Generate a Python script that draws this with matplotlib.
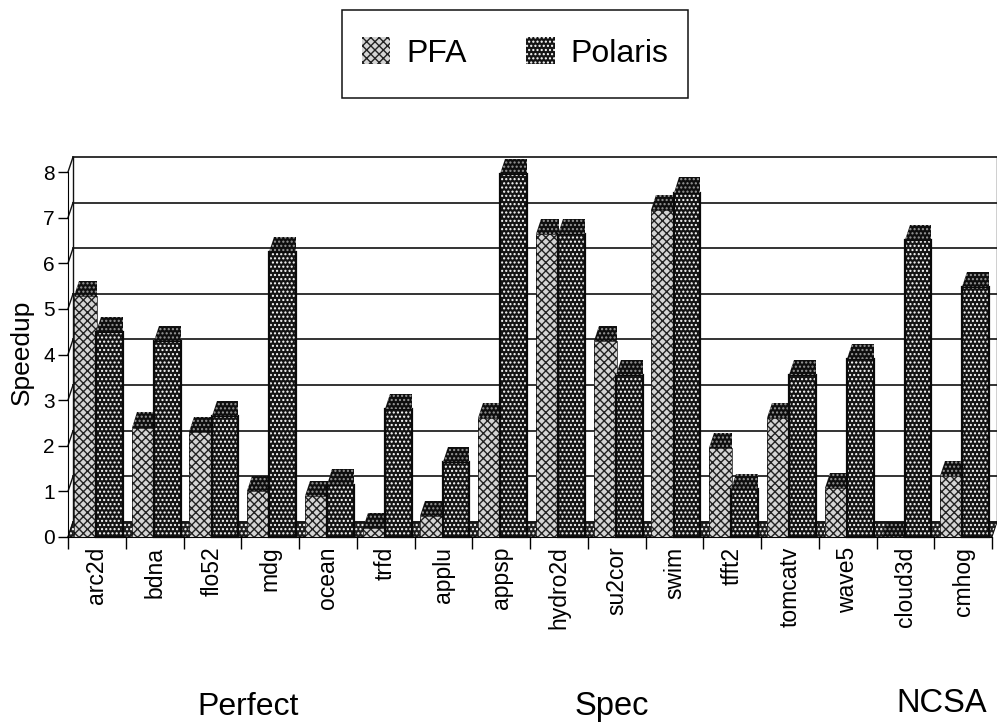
import matplotlib
matplotlib.use("Agg")
import matplotlib.pyplot as plt
from matplotlib.patches import Polygon, Patch, Rectangle
import numpy as np

plt.rcParams["font.family"] = ["Liberation Sans", "DejaVu Sans"]
plt.rcParams["hatch.linewidth"] = 1.0

benchmarks = ["arc2d", "bdna", "flo52", "mdg", "ocean", "trfd", "applu", "appsp",
              "hydro2d", "su2cor", "swim", "tfft2", "tomcatv", "wave5", "cloud3d", "cmhog"]
pfa = [5.28, 2.4, 2.3, 1.0, 0.9, 0.2, 0.45, 2.6, 6.65, 4.3, 7.17, 1.95, 2.6, 1.07, 0.0, 1.33]
polaris = [4.5, 4.3, 2.65, 6.25, 1.15, 2.8, 1.65, 7.95, 6.65, 3.55, 7.55, 1.05, 3.55, 3.9, 6.5, 5.48]
yticks = [0, 1, 2, 3, 4, 5, 6, 7, 8]

# depth of the fake 3d box, in data units
DX = 0.087
DY = 0.33

W, H = 997, 727
fig = plt.figure(figsize=(W / 100, H / 100), dpi=100)
ax = fig.add_axes([68 / W, (H - 537) / H, 924 / W, 365 / H])
ax.set_xlim(0, len(benchmarks))
ax.set_ylim(0, 8)


def face(points, color, hatch_color, hatch, z, lw=0.7):
    ax.add_patch(Polygon(points, facecolor=color, edgecolor=hatch_color, hatch=hatch,
                         linewidth=0, zorder=z, clip_on=False))
    if lw:
        ax.add_patch(Polygon(points, fill=False, edgecolor="#0a0a0a", linewidth=lw, zorder=z, clip_on=False))


def bar3d(x0, x1, value, front, top, z, lw):
    face([(x0, 0), (x1, 0), (x1, value), (x0, value)], *front, z=z, lw=lw)
    face([(x0, value), (x1, value), (x1, value + DY), (x0 + DX, value + DY)], *top, z=z, lw=0)


# back wall, left wall
n = len(benchmarks)
for y in yticks:
    ax.plot([DX, n + DX], [y + DY, y + DY], color="#111111", lw=1.2, zorder=1, clip_on=False)
    ax.plot([0, DX], [y, y + DY], color="#111111", lw=1.0, zorder=1, clip_on=False)
ax.plot([DX, DX], [DY, 8 + DY], color="#111111", lw=1.0, zorder=1, clip_on=False)
ax.plot([n + DX, n + DX], [DY, 8 + DY], color="#111111", lw=1.0, zorder=1, clip_on=False)

pfa_front = ("#d4d4d4", "#222222", "xxxx")
pol_front = ("#141414", "#ffffff", "....")
dark_top = ("#0e0e0e", "#999999", "....")

# floor
face([(0, 0), (n, 0), (n + DX, DY), (DX, DY)], "#1e1e1e", "#ffffff", "....", z=2)

for i in range(n):
    bar3d(i + 0.10, i + 0.50, pfa[i], pfa_front, dark_top, z=3 + i * 0.01, lw=0.5)
    bar3d(i + 0.485, i + 0.95, polaris[i], pol_front, dark_top, z=3 + i * 0.01 + 0.005, lw=1.6)

ax.spines["top"].set_visible(False)
ax.spines["right"].set_visible(False)
ax.set_yticks(yticks)
ax.tick_params(axis="y", length=7.5, width=1.0, labelsize=15, pad=2)
ax.set_xticks(np.arange(n + 1))
ax.set_xticklabels([])
ax.tick_params(axis="x", which="major", length=8.5, width=1.0)
ax.set_xticks(np.arange(n) + 0.5, minor=True)
ax.set_xticklabels(benchmarks, minor=True, rotation=90, fontsize=16.5)
ax.tick_params(axis="x", which="minor", length=0, pad=7)

fig.text(22 / W, 1 - 352 / H, "Speedup", rotation=90, fontsize=19, ha="center", va="center")
fig.text(248 / W, 1 - 707 / H, "Perfect", fontsize=23, ha="center", va="center")
fig.text(612 / W, 1 - 707 / H, "Spec", fontsize=23.5, ha="center", va="center")
fig.text(942 / W, 1 - 703 / H, "NCSA", fontsize=23.5, ha="center", va="center")

fig.add_artist(Rectangle((342 / W, 1 - 98 / H), 346 / W, 88 / H, transform=fig.transFigure,
                         fill=False, edgecolor="#111111", linewidth=1.1))
handles = [
    Patch(facecolor=pfa_front[0], edgecolor=pfa_front[1], hatch=pfa_front[2], linewidth=0, label="PFA"),
    Patch(facecolor=pol_front[0], edgecolor=pol_front[1], hatch=pol_front[2], linewidth=0, label="Polaris"),
]
fig.legend(handles=handles, loc="center", bbox_to_anchor=(515 / W, 1 - 53 / H), ncols=2, fontsize=23,
           frameon=False, borderpad=0.85, handlelength=0.9,
           handleheight=0.9, handletextpad=0.5, columnspacing=1.85)

plt.savefig("out.png", dpi=100)
